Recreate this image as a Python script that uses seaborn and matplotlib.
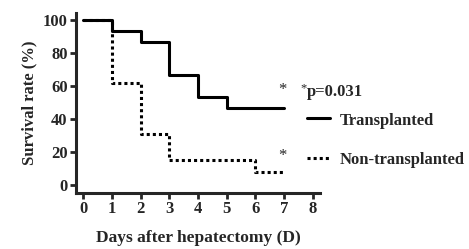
import matplotlib
matplotlib.use("Agg")
import matplotlib.pyplot as plt
import seaborn as sns
import pandas as pd

sns.set_style("ticks")
plt.rcParams['font.family'] = ['Liberation Serif', 'DejaVu Serif']

days_tx = [0, 1, 2, 3, 4, 5, 7]
surv_tx = [100, 93.3, 86.7, 66.7, 53.3, 46.7, 46.7]
days_non = [0, 1, 2, 3, 6, 7]
surv_non = [100, 61.5, 30.8, 15.4, 7.7, 7.7]
xticks = list(range(0, 9))
yticks = [0, 20, 40, 60, 80, 100]

fig = plt.figure(figsize=(4.69, 2.49), dpi=100)
ax = fig.add_axes([0.162, 0.225, 0.52, 0.723])

sns.lineplot(x=days_tx, y=surv_tx, ax=ax, drawstyle="steps-post", color="black",
             linewidth=2.2, linestyle="-")
sns.lineplot(x=days_non, y=surv_non, ax=ax, drawstyle="steps-post", color="black",
             linewidth=2.2, linestyle=(0, (1, 1)))

ax.set_xlim(-0.25, 8.25)
ax.set_ylim(-4.85, 104.2)
ax.set_xticks(xticks)
ax.set_yticks(yticks)
for s in ["top", "right"]:
    ax.spines[s].set_visible(False)
for s in ["left", "bottom"]:
    ax.spines[s].set_linewidth(2.2)
ax.tick_params(width=2, length=4, labelsize=12, direction="out", pad=2)
for lab in ax.get_xticklabels() + ax.get_yticklabels():
    lab.set_fontweight("bold")
ax.set_xlabel("Days after hepatectomy (D)", fontsize=12.5, fontweight="bold", labelpad=9)
ax.set_ylabel("Survival rate (%)", fontsize=12, fontweight="bold", labelpad=4)

fs = 12
fig.text(282/469, 1-90/249, "*", fontsize=fs, ha="center", va="center")
fig.text(282/469, 1-156/249, "*", fontsize=fs, ha="center", va="center")
fig.text(304/469, 1-88/249, "*", fontsize=9, ha="center", va="center")
fig.text(307/469, 1-92/249, "p=0.031", fontsize=fs, fontweight="bold", ha="left", va="center")
fig.add_artist(plt.Line2D([307/469, 330/469], [1-118/249, 1-118/249], color="black", linewidth=2.2,
                          transform=fig.transFigure))
fig.add_artist(plt.Line2D([307/469, 330/469], [1-158/249, 1-158/249], color="black", linewidth=2.2,
                          linestyle=(0, (1, 1)), transform=fig.transFigure))
fig.text(340/469, 1-121/249, "Transplanted", fontsize=fs, fontweight="bold", ha="left", va="center")
fig.text(340/469, 1-160/249, "Non-transplanted", fontsize=fs, fontweight="bold", ha="left", va="center")

fig.savefig("out.png", dpi=100)
